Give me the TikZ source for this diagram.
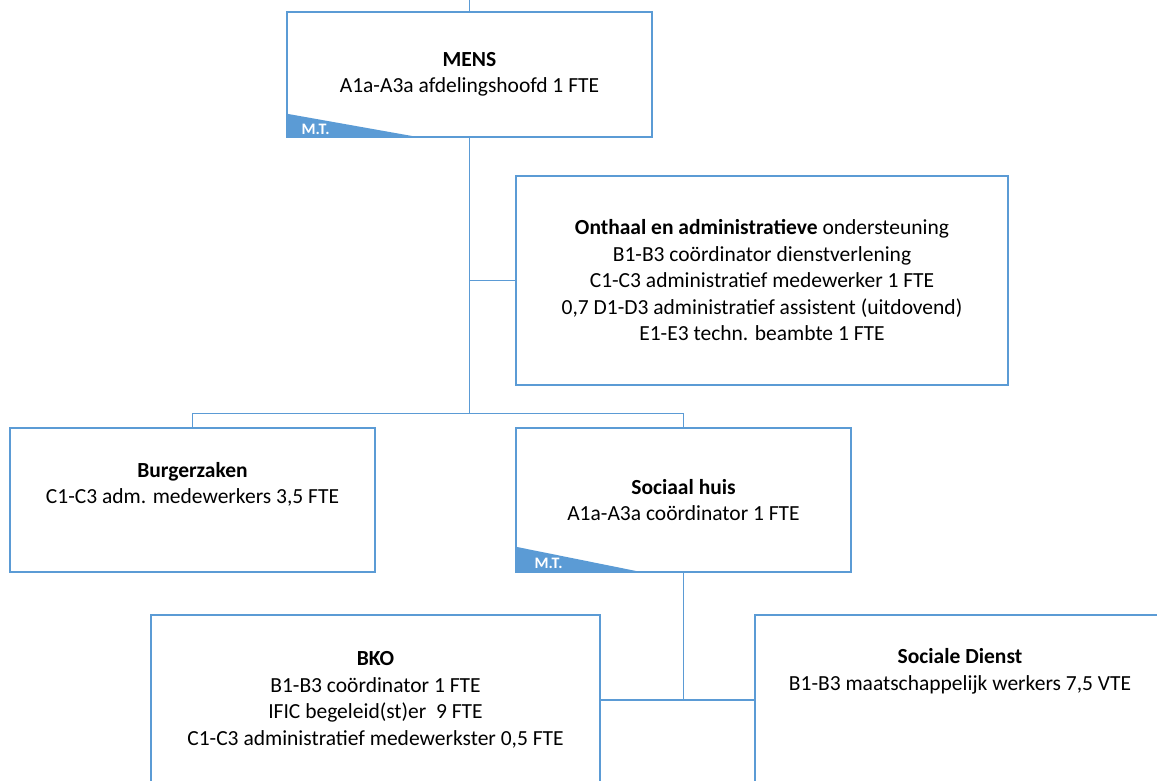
\documentclass[tikz,border=0pt]{standalone}
\usepackage{fontspec}
\setmainfont{Carlito}
\usetikzlibrary{positioning, calc}
\definecolor{officeblue}{RGB}{91,155,213}
\tikzset{
    unit/.style={
        rectangle,
        draw=officeblue,
        line width=1.3pt,
        align=center,
        inner sep=0pt,
        font=\fontsize{21.5}{26.5}\selectfont,
    },
    link/.style={
        draw=officeblue,
        line width=1.3pt,
    },
    mt/.style={
        fill=officeblue,
    },
    mtlabel/.style={
        text=white,
        anchor=base west,
        inner sep=0pt,
        font=\fontsize{16}{16}\selectfont\bfseries,
    },
}

\begin{document}
\begin{tikzpicture}[x=1pt,y=-1pt]
      \useasboundingbox (0,0) rectangle (1157,781);
      \clip (0,0) rectangle (1157,781);

      \node [unit, minimum width=365pt, minimum height=125pt] (mens) at (469.5,74.5)
        {\textbf{MENS}\\A1a-A3a afdelingshoofd 1 FTE};
      \node [unit, minimum width=492pt, minimum height=209pt] (onthaal) at (762,280.5)
        {\textbf{Onthaal en administratieve} ondersteuning\\
         B1-B3 coördinator dienstverlening\\
         C1-C3 administratief medewerker 1 FTE\\
         0,7 D1-D3 administratief assistent (uitdovend)\\
         E1-E3 techn. beambte 1 FTE};
      \node [unit, minimum width=365pt, minimum height=144pt] (burger) at (192.5,500)
        {\textbf{Burgerzaken}\\C1-C3 adm. medewerkers 3,5 FTE\\ \strut};
      \node [unit, minimum width=335pt, minimum height=144pt] (sociaal) at (683.5,500)
        {\textbf{Sociaal huis}\\A1a-A3a coördinator 1 FTE};
      \node [unit, minimum width=449pt, minimum height=170pt] (bko) at (375.5,700)
        {\textbf{BKO}\\B1-B3 coördinator 1 FTE\\
         IFIC begeleid(st)er\ \ 9 FTE\\
         C1-C3 administratief medewerkster 0,5 FTE};
      \node [unit, minimum width=410pt, minimum height=170pt] (dienst) at (960,700)
        {\textbf{Sociale Dienst}\\B1-B3 maatschappelijk werkers 7,5 VTE\\ \strut\\ \strut};

      % M.T. corners
      \fill [mt] (mens.south west) -- ($(mens.south west)+(0,-24)$) -- ($(mens.south west)+(135,0)$) -- cycle;
      \node [mtlabel] (mens-mt) at ($(mens.south west)+(15,-3)$) {M.T.};
      \fill [mt] (sociaal.south west) -- ($(sociaal.south west)+(0,-26)$) -- ($(sociaal.south west)+(129,0)$) -- cycle;
      \node [mtlabel] (sociaal-mt) at ($(sociaal.south west)+(19,-4)$) {M.T.};

      \coordinate (top-mens) at (mens.north |- 0,0);
      \coordinate (fork-mens) at ($(mens.south)+(0,276)$);
      \coordinate (fork-sociaal) at (sociaal.south |- bko.east);

      \draw [link] (top-mens) -- (mens.north);
      \draw [link] (mens.south) -- (fork-mens);
      \draw [link] (mens.south) |- (onthaal.west);
      \draw [link] (fork-mens) -| (burger.north);
      \draw [link] (fork-mens) -| (sociaal.north);
      \draw [link] (sociaal.south) -- (fork-sociaal);
      \draw [link] (bko.east) -- (dienst.west);
    \end{tikzpicture}
\end{document}
